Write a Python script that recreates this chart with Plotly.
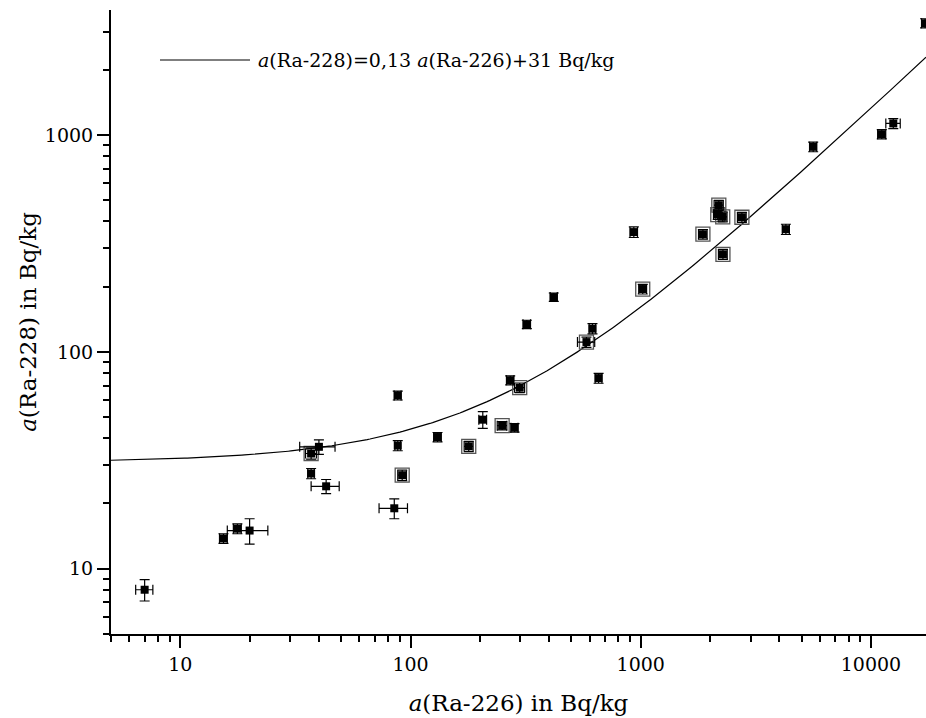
import numpy as np
import plotly.graph_objects as go

# Data (Bq/kg)
ra226 = [7, 15.4, 17.7, 20, 40, 37, 37, 43, 85, 92, 88, 88, 131, 179, 206, 250, 283, 271, 298,
         320, 419, 581, 617, 656, 933, 1020, 1862, 2183, 2160, 2270, 2275, 2750, 4270, 5610,
         11140, 12500, 17180]
ra228 = [8, 13.8, 15.3, 15, 36.5, 34, 27.5, 24, 19, 27, 37, 63, 40.5, 36.7, 48.7, 45.7, 44.7, 74, 68.4,
         134, 179, 111, 128, 75.7, 357, 195, 349, 475, 430, 420, 282, 418, 368, 883,
         1010, 1132, 3280]
ra226_err = [0.6, 0.6, 0.7, 4, 7, 2, 1.2, 6, 12, 4, 2.5, 3, 5, 8, 8, 12, 10, 10, 15,
             12, 15, 50, 20, 22, 35, 40, 80, 100, 90, 100, 100, 120, 150, 200,
             450, 900, 600]
ra228_err = [0.9, 0.7, 0.8, 2, 2.8, 2, 1.5, 1.8, 2, 1.5, 2, 3, 2, 2, 4.3, 2, 2, 3.5, 3.5,
             6, 8, 6, 7, 4, 20, 10, 18, 25, 22, 22, 15, 22, 20, 45,
             50, 60, 160]
boxed = [0, 0, 0, 0, 0, 1, 0, 0, 0, 1, 0, 0, 0, 1, 0, 1, 0, 0, 1,
         0, 0, 1, 0, 0, 0, 1, 1, 1, 1, 1, 1, 1, 0, 0,
         0, 0, 0]

fit_slope = 0.13
fit_offset = 31
x_tick_vals = [10, 100, 1000, 10000]
y_tick_vals = [10, 100, 1000]
legend_text = "<i>a</i>(Ra-228)=0,13 <i>a</i>(Ra-226)+31 Bq/kg"

FONT = "DejaVu Serif"

xr = [np.log10(5), 4.239]
yr = [np.log10(5), 3.577]

xf = np.logspace(xr[0], xr[1], 300)
yf = fit_slope * xf + fit_offset

def minors(lo, hi):
    out = []
    for d in range(-1, 6):
        for m in range(2, 10):
            v = m * 10 ** d
            if lo <= v <= hi:
                out.append(v)
    return out

fig = go.Figure()
fig.add_trace(go.Scatter(x=xf, y=yf, mode="lines", line=dict(color="black", width=1.2),
                         showlegend=False, hoverinfo="skip"))
bx = [x for x, b in zip(ra226, boxed) if b]
by = [y for y, b in zip(ra228, boxed) if b]
fig.add_trace(go.Scatter(x=bx, y=by, mode="markers", showlegend=False,
                         marker=dict(symbol="square-open", size=14, color="#555",
                                     line=dict(width=1.3, color="#555"))))
fig.add_trace(go.Scatter(
    x=ra226, y=ra228, mode="markers", showlegend=False,
    marker=dict(symbol="square", size=8, color="black"),
    error_x=dict(type="data", array=ra226_err, color="black", thickness=1.2, width=5),
    error_y=dict(type="data", array=ra228_err, color="black", thickness=1.2, width=5),
))

axis_common = dict(
    type="log", showgrid=False, zeroline=False, showline=True, linecolor="black", linewidth=2,
    ticks="outside", ticklen=12, tickwidth=2, tickcolor="black",
    tickfont=dict(family=FONT, size=19, color="black"),
)
fig.update_xaxes(**axis_common, range=xr, tickvals=x_tick_vals,
                 ticktext=[str(v) for v in x_tick_vals],
                 minor=dict(tickmode="array", tickvals=minors(5, 20000), ticks="outside",
                            ticklen=6, tickwidth=2, tickcolor="black"),
                 title=dict(text="<i>a</i>(Ra-226) in Bq/kg", font=dict(family=FONT, size=23, color="black"),
                            standoff=21))
fig.update_yaxes(**axis_common, range=yr, tickvals=y_tick_vals,
                 ticktext=[str(v) for v in y_tick_vals],
                 minor=dict(tickmode="array", tickvals=minors(5, 4000), ticks="outside",
                            ticklen=6, tickwidth=2, tickcolor="black"),
                 title=dict(text="<i>a</i>(Ra-228) in Bq/kg", font=dict(family=FONT, size=23, color="black"),
                            standoff=2))

W, H = 926, 718
ml, mr, mt, mb = 111, 0, 10, 84
pw, ph = W - ml - mr, H - mt - mb
def px(xp):
    return (xp - ml) / pw
def py(yp):
    return 1 - (yp - mt) / ph

fig.add_shape(type="line", xref="paper", yref="paper", x0=px(160), x1=px(250), y0=py(60), y1=py(60),
              line=dict(color="black", width=1.2))
fig.add_annotation(xref="paper", yref="paper", x=px(256), y=py(60), xanchor="left", yanchor="middle",
                   text=legend_text, showarrow=False, font=dict(family=FONT, size=19, color="black"))

fig.update_layout(width=W, height=H, margin=dict(l=ml, r=mr, t=mt, b=mb),
                  plot_bgcolor="white", paper_bgcolor="white", showlegend=False,
                  font=dict(family=FONT))
fig.write_html("out.html")
